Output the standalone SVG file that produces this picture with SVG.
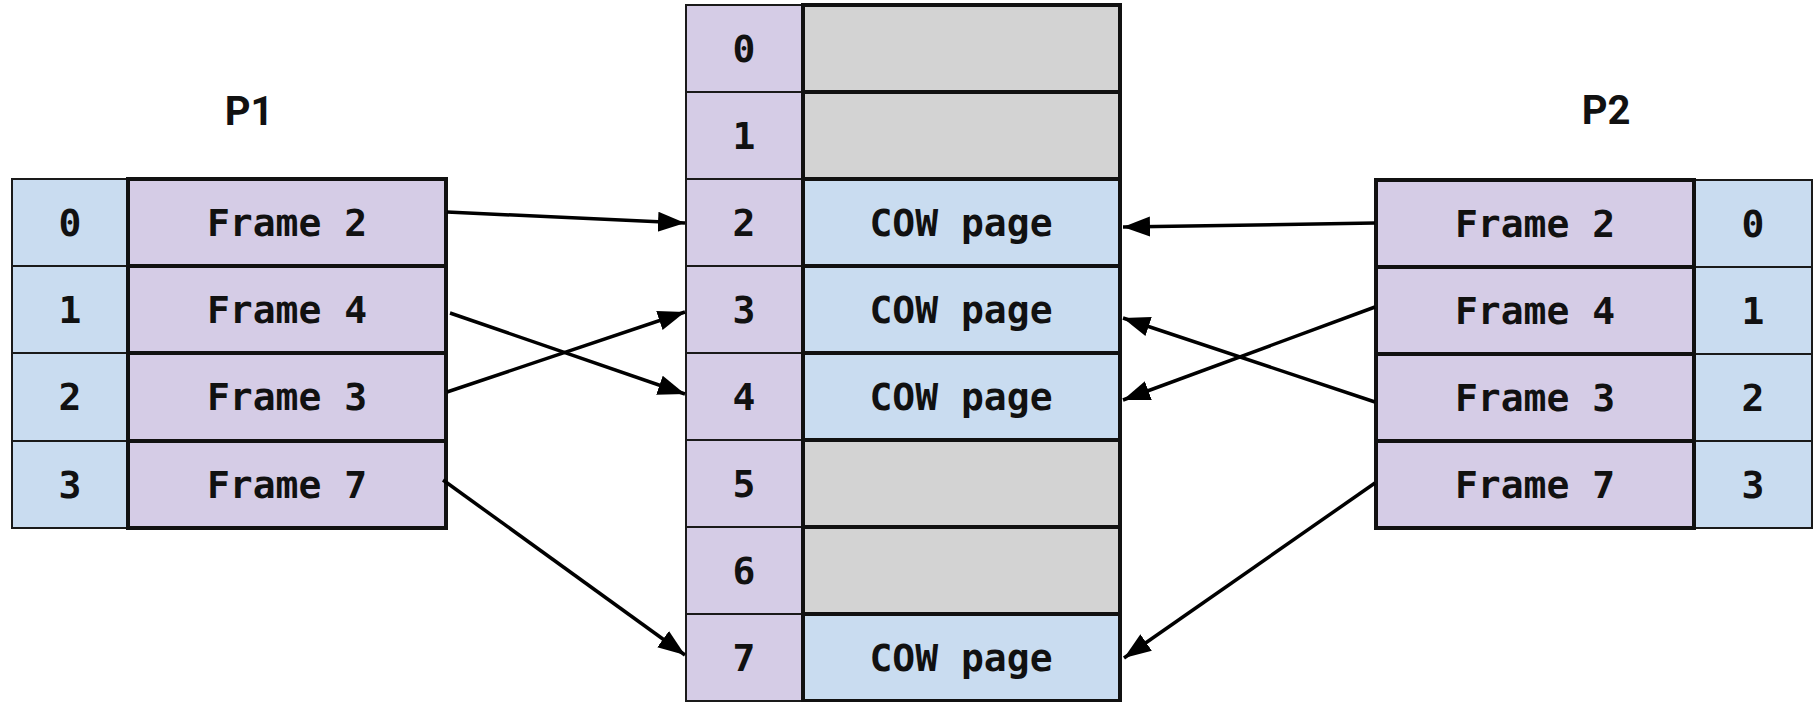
<svg xmlns="http://www.w3.org/2000/svg" width="1814" height="702" viewBox="0 0 1814 702">
<style>
.bg{fill:#ffffff}
.blue{fill:#c9dcf0;stroke:#1a1a1a;stroke-width:2}
.purple{fill:#d5cce6;stroke:#111111;stroke-width:4}
.purpleThin{fill:#d5cce6;stroke:#1a1a1a;stroke-width:2}
.blueThick{fill:#c9dcf0;stroke:#111111;stroke-width:4}
.gray{fill:#d3d3d3;stroke:#111111;stroke-width:4}
.t{font-family:"DejaVu Sans Mono","Liberation Mono",monospace;font-weight:bold;font-size:38px;fill:#111111;text-anchor:middle}
.title{font-family:Roboto,"Liberation Sans",sans-serif;font-weight:bold;font-size:40px;fill:#111111;text-anchor:middle}
.conn line{stroke:#000000;stroke-width:3.5;fill:none;marker-end:url(#ah)}
</style>
<defs>
<marker id="ah" markerUnits="userSpaceOnUse" markerWidth="28" markerHeight="22" refX="27" refY="10" orient="auto">
<path d="M0,0 L27,10 L0,20 Z" fill="#000000"/>
</marker>
</defs>
<rect class="bg" x="0" y="0" width="1814" height="702"/>

<text class="title" x="249" y="125">P1</text>
<text class="title" x="1606" y="124">P2</text>

<g id="p1">
<g id="p1-row0"><rect class="blue" x="12" y="179" width="116" height="87"/><rect class="purple" x="128" y="179" width="318" height="87"/><text class="t" x="70" y="236">0</text><text class="t" x="287" y="236">Frame 2</text></g>
<g id="p1-row1"><rect class="blue" x="12" y="266" width="116" height="87"/><rect class="purple" x="128" y="266" width="318" height="87"/><text class="t" x="70" y="323">1</text><text class="t" x="287" y="323">Frame 4</text></g>
<g id="p1-row2"><rect class="blue" x="12" y="353" width="116" height="88"/><rect class="purple" x="128" y="353" width="318" height="88"/><text class="t" x="70" y="410">2</text><text class="t" x="287" y="410">Frame 3</text></g>
<g id="p1-row3"><rect class="blue" x="12" y="441" width="116" height="87"/><rect class="purple" x="128" y="441" width="318" height="87"/><text class="t" x="70" y="498">3</text><text class="t" x="287" y="498">Frame 7</text></g>
</g>

<g id="memory">
<g id="mem0"><rect class="purpleThin" x="686" y="5" width="117" height="87"/><rect class="gray" x="803" y="5" width="317" height="87"/><text class="t" x="744" y="62">0</text></g>
<g id="mem1"><rect class="purpleThin" x="686" y="92" width="117" height="87"/><rect class="gray" x="803" y="92" width="317" height="87"/><text class="t" x="744" y="149">1</text></g>
<g id="mem2"><rect class="purpleThin" x="686" y="179" width="117" height="87"/><rect class="blueThick" x="803" y="179" width="317" height="87"/><text class="t" x="744" y="236">2</text><text class="t" x="961" y="236">COW page</text></g>
<g id="mem3"><rect class="purpleThin" x="686" y="266" width="117" height="87"/><rect class="blueThick" x="803" y="266" width="317" height="87"/><text class="t" x="744" y="323">3</text><text class="t" x="961" y="323">COW page</text></g>
<g id="mem4"><rect class="purpleThin" x="686" y="353" width="117" height="87"/><rect class="blueThick" x="803" y="353" width="317" height="87"/><text class="t" x="744" y="410">4</text><text class="t" x="961" y="410">COW page</text></g>
<g id="mem5"><rect class="purpleThin" x="686" y="440" width="117" height="87"/><rect class="gray" x="803" y="440" width="317" height="87"/><text class="t" x="744" y="497">5</text></g>
<g id="mem6"><rect class="purpleThin" x="686" y="527" width="117" height="87"/><rect class="gray" x="803" y="527" width="317" height="87"/><text class="t" x="744" y="584">6</text></g>
<g id="mem7"><rect class="purpleThin" x="686" y="614" width="117" height="87"/><rect class="blueThick" x="803" y="614" width="317" height="87"/><text class="t" x="744" y="671">7</text><text class="t" x="961" y="671">COW page</text></g>
</g>

<g id="p2">
<g id="p2-row0"><rect class="blue" x="1694" y="180" width="118" height="87"/><rect class="purple" x="1376" y="180" width="318" height="87"/><text class="t" x="1753" y="237">0</text><text class="t" x="1535" y="237">Frame 2</text></g>
<g id="p2-row1"><rect class="blue" x="1694" y="267" width="118" height="87"/><rect class="purple" x="1376" y="267" width="318" height="87"/><text class="t" x="1753" y="324">1</text><text class="t" x="1535" y="324">Frame 4</text></g>
<g id="p2-row2"><rect class="blue" x="1694" y="354" width="118" height="87"/><rect class="purple" x="1376" y="354" width="318" height="87"/><text class="t" x="1753" y="411">2</text><text class="t" x="1535" y="411">Frame 3</text></g>
<g id="p2-row3"><rect class="blue" x="1694" y="441" width="118" height="87"/><rect class="purple" x="1376" y="441" width="318" height="87"/><text class="t" x="1753" y="498">3</text><text class="t" x="1535" y="498">Frame 7</text></g>
</g>

<g id="connectors" class="conn">
<line x1="447" y1="212" x2="685" y2="223"/>
<line x1="450" y1="313" x2="685" y2="394"/>
<line x1="447" y1="392" x2="685" y2="312"/>
<line x1="443" y1="480" x2="685" y2="655"/>
<line x1="1375" y1="223" x2="1123" y2="227"/>
<line x1="1375" y1="307" x2="1123" y2="400"/>
<line x1="1375" y1="402" x2="1123" y2="318"/>
<line x1="1375" y1="483" x2="1124" y2="658"/>
</g>
</svg>
